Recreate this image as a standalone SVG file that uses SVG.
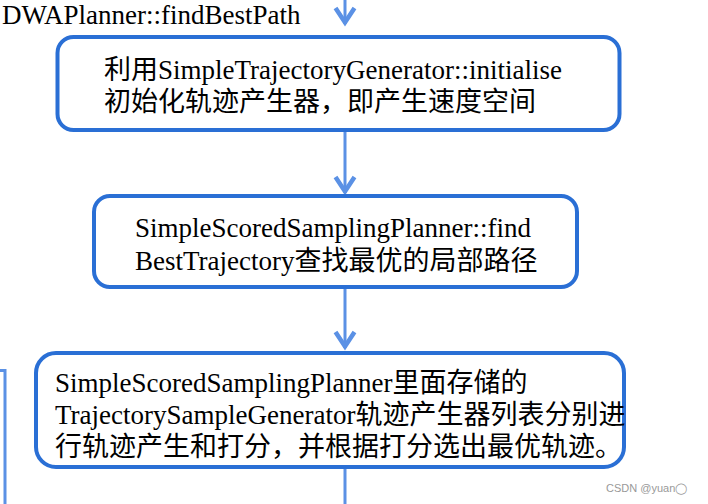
<svg xmlns="http://www.w3.org/2000/svg" width="708" height="504" viewBox="0 0 708 504">
<style>
.box{fill:#ffffff;stroke:#2a6fd5;stroke-width:4}
.t{font-family:"Liberation Serif","Noto Sans CJK SC",serif;font-size:27px;fill:#000}
.c{fill:none;stroke:#5b91e5;stroke-width:3}
.wm{font-family:"Liberation Sans",sans-serif;font-size:11px;fill:#999}
</style>
<defs>
<marker id="ah" markerUnits="userSpaceOnUse" orient="auto" refX="0" refY="0" markerWidth="30" markerHeight="30" overflow="visible">
<path d="M-16,-9.5 L-1.5,0 L-16,9.5" fill="none" stroke="#5b91e5" stroke-width="4.5"/>
</marker>
</defs>
<rect width="708" height="504" fill="#ffffff"/>
<text class="t" x="2" y="24">DWAPlanner::findBestPath</text>
<g id="connectors">
<line class="c" x1="345" y1="0" x2="345" y2="24" marker-end="url(#ah)"/>
<line class="c" x1="345" y1="131" x2="345" y2="193" marker-end="url(#ah)"/>
<line class="c" x1="345" y1="288" x2="345" y2="348" marker-end="url(#ah)"/>
<line class="c" x1="345" y1="467" x2="345" y2="504"/>
<polyline class="c" points="0,370.5 5,370.5 5,504" stroke-width="2"/>
</g>
<g id="node1">
<rect class="box" x="57.5" y="37" width="562" height="93" rx="16"/>
<text class="t" x="104" y="79">利用SimpleTrajectoryGenerator::initialise</text>
<text class="t" x="104" y="111">初始化轨迹产生器，即产生速度空间</text>
</g>
<g id="node2">
<rect class="box" x="94" y="196" width="483" height="91" rx="16"/>
<text class="t" x="135" y="237">SimpleScoredSamplingPlanner::find</text>
<text class="t" x="135" y="270">BestTrajectory查找最优的局部路径</text>
</g>
<g id="node3">
<rect class="box" x="36" y="353" width="588" height="114" rx="20"/>
<text class="t" x="55" y="392">SimpleScoredSamplingPlanner里面存储的</text>
<text class="t" x="55" y="424">TrajectorySampleGenerator轨迹产生器列表分别进</text>
<text class="t" x="55" y="456">行轨迹产生和打分，并根据打分选出最优轨迹。</text>
</g>
<text class="wm" x="606" y="492">CSDN @yuan◯</text>
</svg>
